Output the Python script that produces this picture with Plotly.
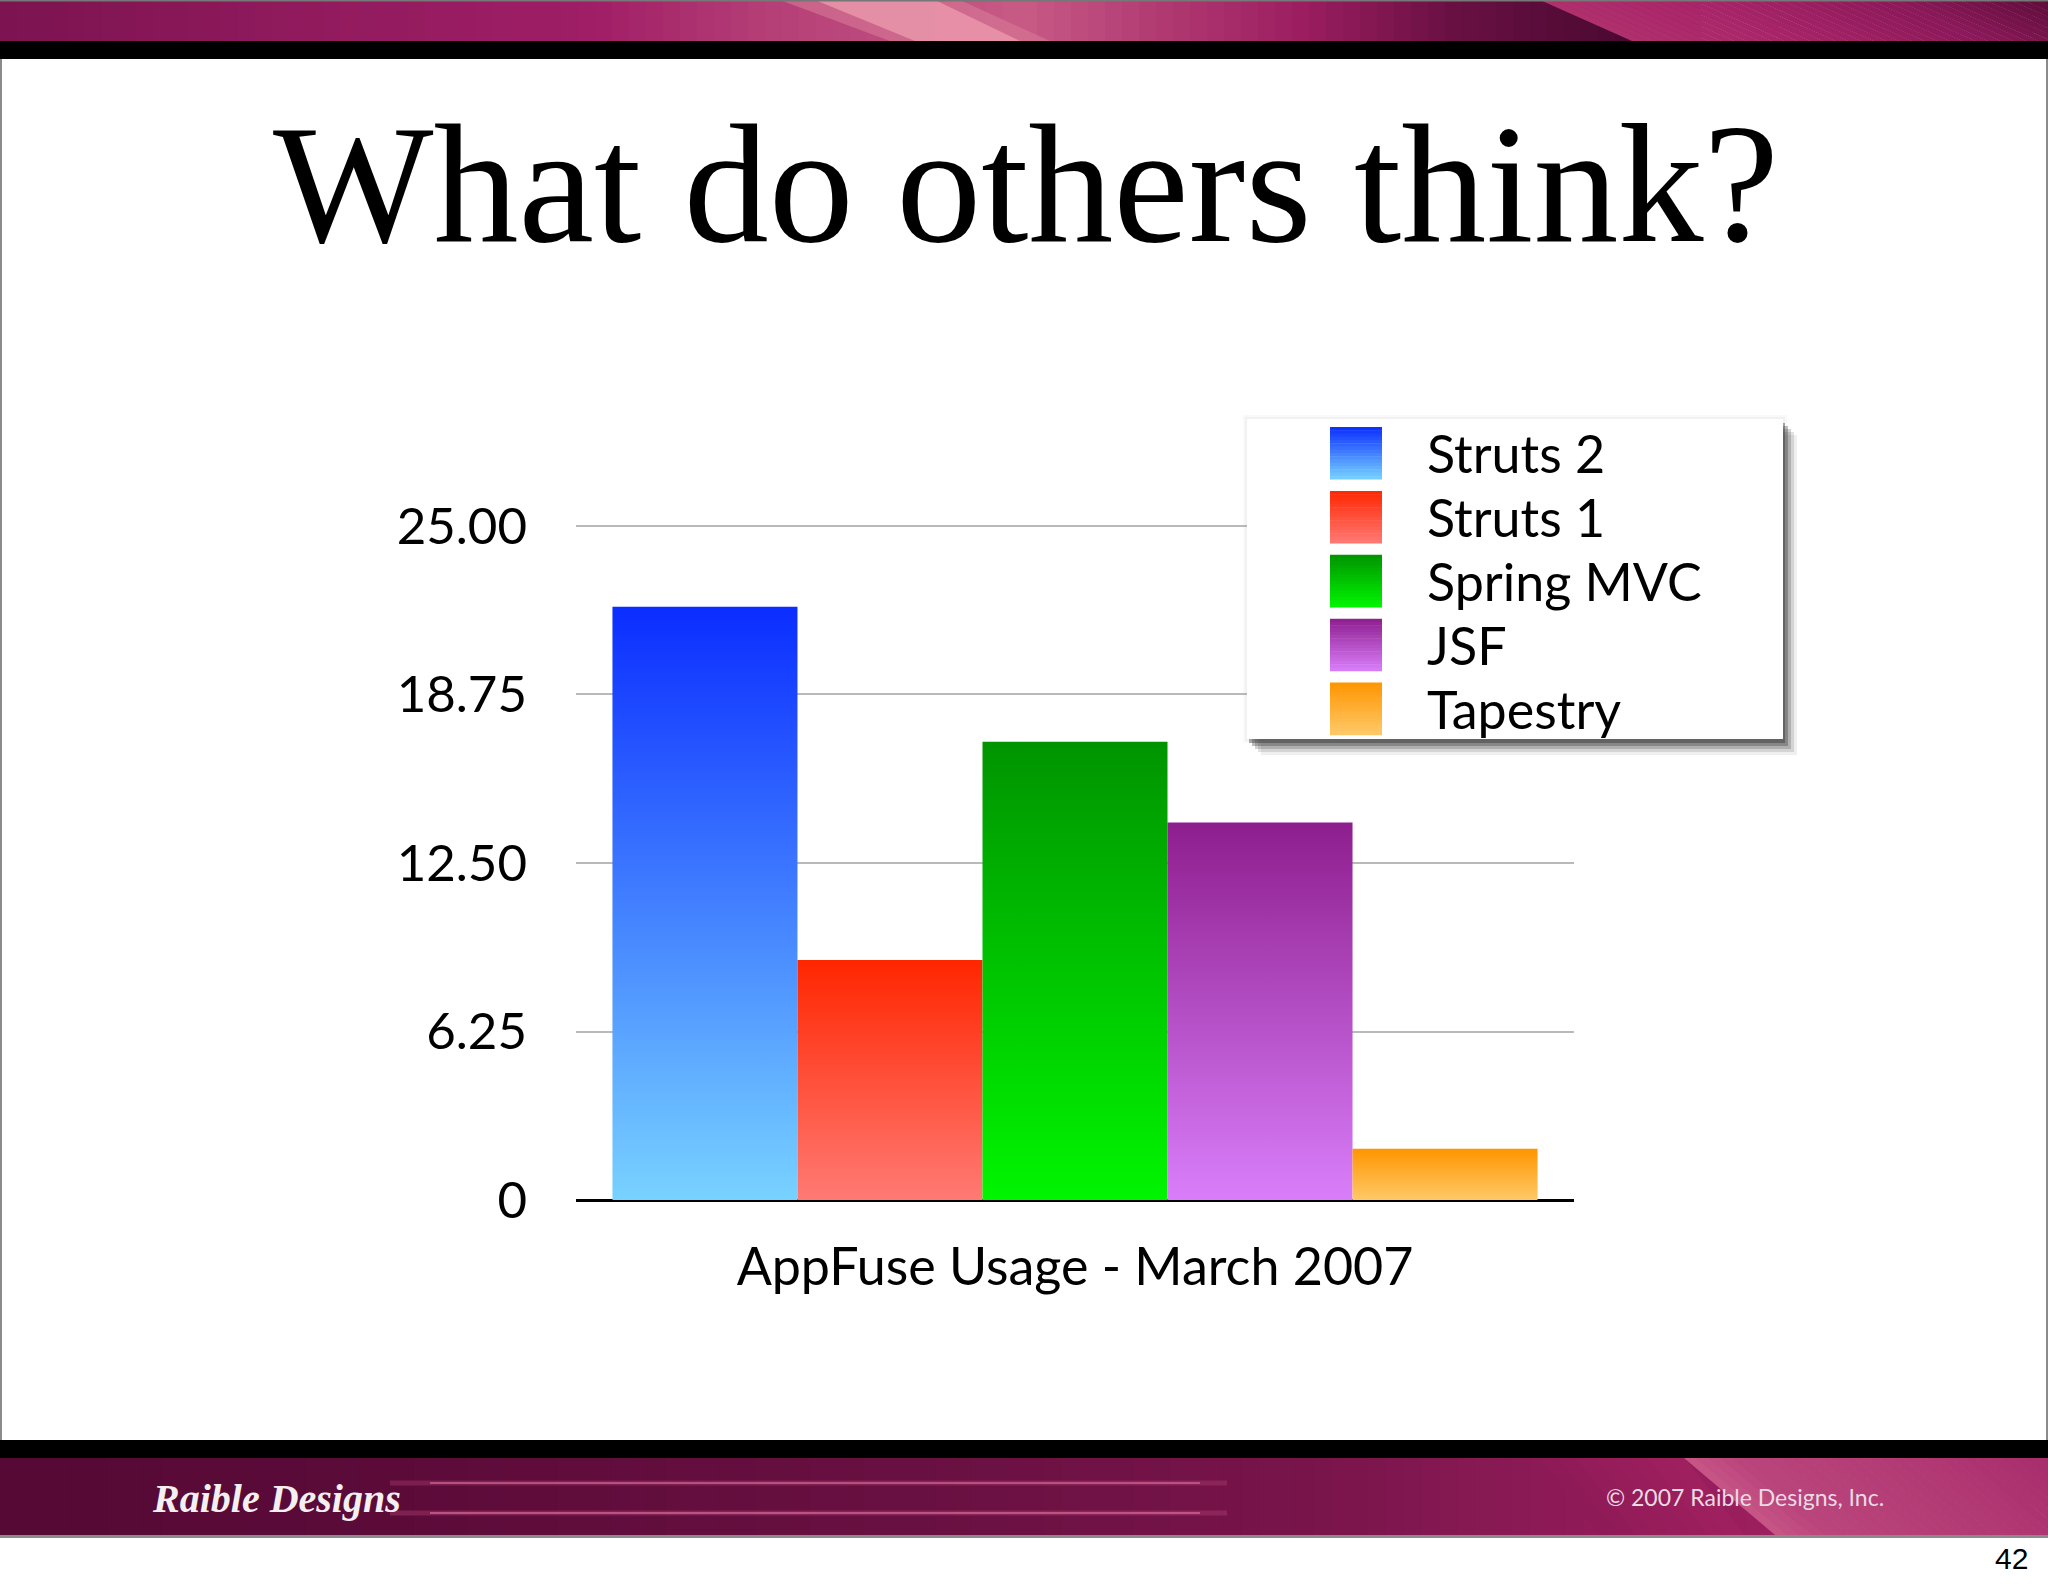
import plotly.graph_objects as go

# ---------------- data ----------------
category = "AppFuse Usage - March 2007"
series = ["Struts 2", "Struts 1", "Spring MVC", "JSF", "Tapestry"]
values = [22, 8.9, 17, 14, 1.9]
top_colors = ["#0B2DFF", "#FF2600", "#009400", "#8E1E8E", "#FF9500"]
bottom_colors = ["#78D2FF", "#FF7A74", "#00F500", "#D97EFA", "#FFC968"]
ytick_vals = [0, 6.25, 12.5, 18.75, 25]
ytick_text = ["0", "6.25", "12.50", "18.75", "25.00"]
title_text = "What do others think?"
footer_left = "Raible Designs"
footer_right = "© 2007 Raible Designs, Inc."
page_no = "42"

W, H = 2048, 1587


def X(px):
    return px / W


def Y(py):
    return 1 - py / H


def hex2rgb(h):
    h = h.lstrip("#")
    return tuple(int(h[i:i + 2], 16) for i in (0, 2, 4))


def mix(c1, c2, t):
    a, b = hex2rgb(c1), hex2rgb(c2)
    return "rgb(%d,%d,%d)" % tuple(round(a[k] + (b[k] - a[k]) * t) for k in range(3))


shapes = []


def rect(x0, y0, x1, y1, color, opacity=1.0):
    shapes.append(dict(type="rect", xref="paper", yref="paper", x0=X(x0), x1=X(x1),
                       y0=Y(y1), y1=Y(y0), fillcolor=color, opacity=opacity,
                       line=dict(width=0), layer="above"))


def poly(pts, color, opacity=1.0):
    path = "M" + " L".join("%f,%f" % (X(a), Y(b)) for a, b in pts) + " Z"
    shapes.append(dict(type="path", xref="paper", yref="paper", path=path,
                       fillcolor=color, opacity=opacity, line=dict(width=0), layer="above"))


def color_at(stops, xc):
    for j in range(len(stops) - 1):
        if stops[j][0] <= xc <= stops[j + 1][0]:
            t = (xc - stops[j][0]) / max(stops[j + 1][0] - stops[j][0], 1e-9)
            return mix(stops[j][1], stops[j + 1][1], t)
    return mix(stops[-1][1], stops[-1][1], 0)


def hgrad(x0, x1, y0, y1, stops, n=120, skew=0.0):
    """horizontal gradient made of (optionally slanted) strips; skew = x shift at bottom"""
    step = (x1 - x0) / n
    for k in range(n):
        xa = x0 + k * step
        col = color_at(stops, xa + step / 2)
        xb = xa + step + 0.8
        poly([(xa, y0), (xb, y0), (xb + skew, y1), (xa + skew, y1)], col)


def vgrad(x0, x1, y0, y1, ctop, cbot, n=16):
    step = (y1 - y0) / n
    for k in range(n):
        ya = y0 + k * step
        rect(x0, ya, x1, ya + step + 0.6, mix(ctop, cbot, (k + 0.5) / n))


# ---------------- top banner ----------------
hgrad(0, 1700, 0, 41, [(0, "#7C1350"), (300, "#901A5D"), (600, "#A01E66"), (760, "#B43E76"),
                       (1025, "#C85A86"), (1150, "#B23C73"), (1300, "#9C1E61"), (1450, "#6A1043"),
                       (1632, "#4A0930"), (1700, "#4A0930")], n=100)
hgrad(1540, 2048, 0, 41, [(1540, "#B0306E"), (1700, "#A82469"), (1900, "#8A1858"),
                          (2048, "#5E0C3A")], n=40, skew=92)
poly([(780, 0), (960, 0), (1050, 41), (890, 41)], "#D77A96", 0.6)
poly([(815, 0), (935, 0), (1020, 41), (915, 41)], "#E893A8", 0.9)
rect(0, 0, 2048, 1.5, "#777777")
rect(0, 41, 2048, 59, "#000000")

# ---------------- bottom banner ----------------
rect(0, 1440, 2048, 1458, "#000000")
hgrad(0, 1800, 1458, 1535, [(0, "#560935"), (400, "#5C0B39"), (900, "#681041"), (1300, "#78144A"),
                            (1540, "#8C1A56"), (1800, "#9E1F5F")], n=100)
hgrad(1540, 1684, 1458, 1535, [(1540, "#8E1A57"), (1684, "#A0205F")], n=8, skew=60)
hgrad(1684, 2048, 1458, 1535, [(1684, "#C85686"), (1740, "#BA447C"), (1900, "#B23A74"),
                               (2048, "#A82C6C")], n=30, skew=91)
for yy, op in ((1483, 0.7), (1513, 0.75)):
    shapes.append(dict(type="line", xref="paper", yref="paper", x0=X(390), x1=X(1227),
                       y0=Y(yy), y1=Y(yy), line=dict(color="#B84478", width=5), opacity=op * 0.5,
                       layer="above"))
    shapes.append(dict(type="line", xref="paper", yref="paper", x0=X(430), x1=X(1200),
                       y0=Y(yy), y1=Y(yy), line=dict(color="#D06494", width=2), opacity=op,
                       layer="above"))
rect(0, 1535, 2048, 1538, "#8A8A8A")
# slide side borders
rect(0, 59, 2, 1440, "#8A8A8A")
rect(2046, 59, 2048, 1440, "#8A8A8A")

# ---------------- legend box ----------------
lx0, lx1, ly0, ly1 = 1247, 1783, 419, 739
for d, op in [(4, 0.06), (2, 0.08)]:
    rect(lx0 - d, ly0 - d, lx1 + d, ly1 + d, "#9A9A9A", op)
for (dx, dy, op) in [(14, 16, 0.08), (11, 13, 0.14), (8, 10, 0.22), (5, 7, 0.32), (2, 4, 0.4)]:
    rect(lx0 + dx, ly0 + dy, lx1 + dx, ly1 + dy, "#333333", op)
rect(lx0, ly0, lx1, ly1, "#FFFFFF")

row_y = [453 + 63.9 * k for k in range(len(series))]
for k in range(len(series)):
    vgrad(1330, 1382, row_y[k] - 26, row_y[k] + 26, top_colors[k], bottom_colors[k])

annotations = []
for k, name in enumerate(series):
    annotations.append(dict(xref="paper", yref="paper", x=X(1425), y=Y(row_y[k]),
                            text=name, showarrow=False, xanchor="left", yanchor="middle",
                            font=dict(family="Lato", size=52, color="black")))

annotations.append(dict(xref="paper", yref="paper", x=X(1026), y=Y(184), text=title_text,
                        showarrow=False, xanchor="center", yanchor="middle",
                        font=dict(family="Liberation Serif", size=170, color="black")))
annotations.append(dict(xref="paper", yref="paper", x=X(150), y=Y(1498), text=footer_left,
                        showarrow=False, xanchor="left", yanchor="middle",
                        font=dict(family="Liberation Serif", size=40, color="#F4F0F2",
                                  style="italic", weight="bold")))
annotations.append(dict(xref="paper", yref="paper", x=X(1886), y=Y(1497), text=footer_right,
                        showarrow=False, xanchor="right", yanchor="middle",
                        font=dict(family="Lato", size=23, color="#EADBE3")))
annotations.append(dict(xref="paper", yref="paper", x=X(2030), y=Y(1558), text=page_no,
                        showarrow=False, xanchor="right", yanchor="middle",
                        font=dict(family="Liberation Sans", size=30, color="black")))

# ---------------- bars ----------------
fig = go.Figure()
for i, (name, v, ct, cb) in enumerate(zip(series, values, top_colors, bottom_colors)):
    fig.add_trace(go.Scatter(
        x=[i - 0.5, i + 0.5, i + 0.5, i - 0.5, i - 0.5],
        y=[0, 0, v, v, 0],
        fill="toself", mode="lines", line=dict(width=0),
        fillcolor=ct,
        fillgradient=dict(type="vertical", colorscale=[[0, cb], [1, ct]]),
        name=name, showlegend=False,
        hovertemplate=name + ": %{y}<extra></extra>",
    ))

fig.update_layout(
    width=W, height=H,
    margin=dict(l=0, r=0, t=0, b=0, pad=0, autoexpand=False),
    paper_bgcolor="white", plot_bgcolor="rgba(0,0,0,0)",
    showlegend=False,
    shapes=shapes, annotations=annotations,
    xaxis=dict(domain=[X(576), X(1574)], range=[-0.697, 4.697], automargin=False,
               tickvals=[2], ticktext=[category], showgrid=False, zeroline=False,
               showline=False, ticks="", ticklabelstandoff=32,
               tickfont=dict(family="Lato", size=52, color="black"), fixedrange=True),
    yaxis=dict(domain=[Y(1200), Y(517.9)], range=[0, 25.3], automargin=False,
               tickvals=ytick_vals, ticktext=ytick_text, showgrid=True,
               gridcolor="#B9B9B9", gridwidth=2, zeroline=True, zerolinecolor="black",
               zerolinewidth=3, showline=False, ticks="", ticklabelstandoff=48,
               tickfont=dict(family="Lato", size=51, color="black"), fixedrange=True),
)

fig.write_html("out.html", config={"displayModeBar": False},
               post_script="document.body.style.margin='0';document.body.style.overflow='hidden';")
